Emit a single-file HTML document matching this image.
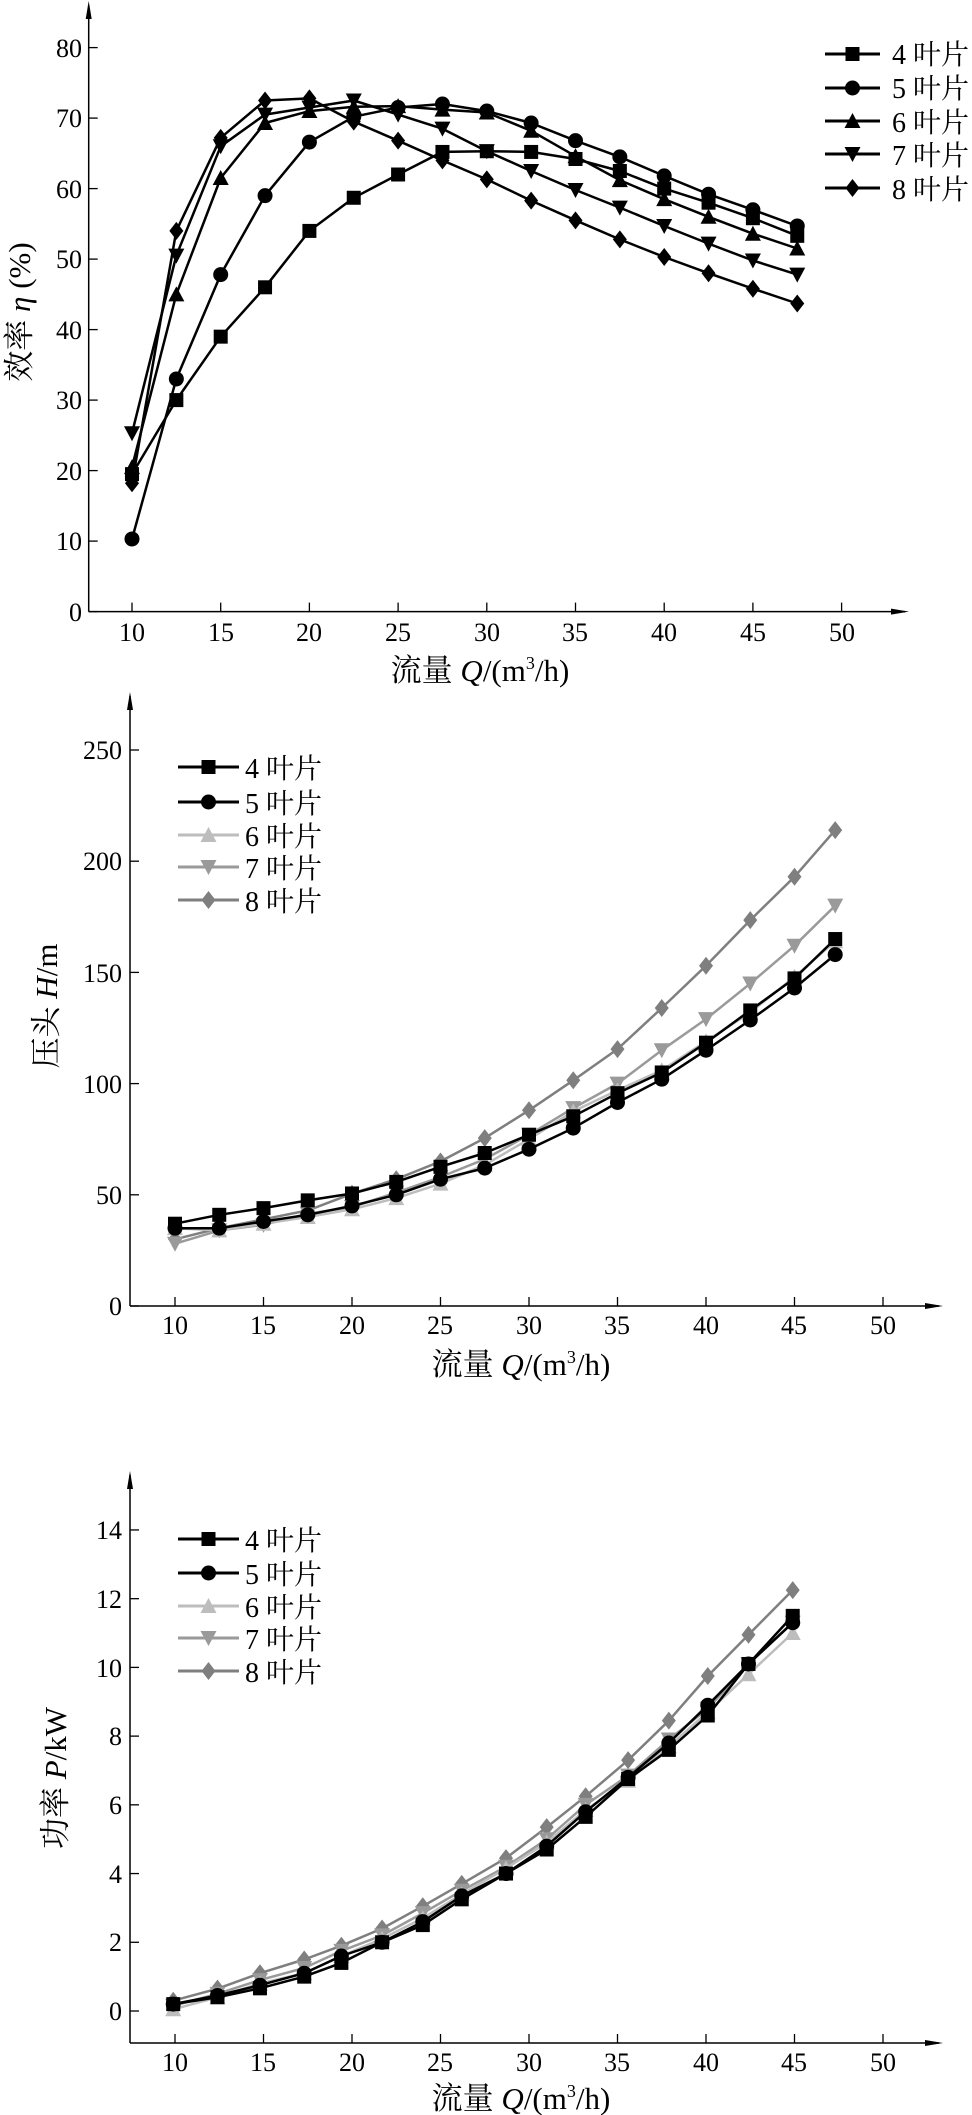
<!DOCTYPE html>
<html><head><meta charset="utf-8"><style>
html,body{margin:0;padding:0;background:#fff}
svg{display:block}
text{font-family:"Liberation Serif","Noto Serif CJK SC","Noto Sans CJK SC",serif;font-size:26px;fill:#000}
.yt{text-anchor:end}
.xt{text-anchor:middle}
.tt{font-size:31px}
.lg{font-size:28px}
</style></head><body>
<svg id="s" width="972" height="2115" viewBox="0 0 972 2115" xmlns="http://www.w3.org/2000/svg">
<g id="g"></g>
<text x="82" y="621" class="yt">0</text><text x="82" y="550" class="yt">10</text><text x="82" y="480" class="yt">20</text><text x="82" y="409" class="yt">30</text><text x="82" y="339" class="yt">40</text><text x="82" y="268" class="yt">50</text><text x="82" y="198" class="yt">60</text><text x="82" y="127" class="yt">70</text><text x="82" y="57" class="yt">80</text>
<text x="132" y="641" class="xt">10</text><text x="221" y="641" class="xt">15</text><text x="309" y="641" class="xt">20</text><text x="398" y="641" class="xt">25</text><text x="487" y="641" class="xt">30</text><text x="575" y="641" class="xt">35</text><text x="664" y="641" class="xt">40</text><text x="753" y="641" class="xt">45</text><text x="842" y="641" class="xt">50</text>
<text x="480" y="681" class="xt tt">流量 <tspan font-style="italic">Q</tspan>/(m<tspan font-size="18" dy="-12">3</tspan><tspan dy="12">/h)</tspan></text>
<text transform="translate(30,312) rotate(-90)" class="xt tt">效率 <tspan font-style="italic">η</tspan> (%)</text>
<text x="892" y="64" class="lg">4 叶片</text><text x="892" y="98" class="lg">5 叶片</text><text x="892" y="132" class="lg">6 叶片</text><text x="892" y="165" class="lg">7 叶片</text><text x="892" y="199" class="lg">8 叶片</text>
<text x="122" y="1315" class="yt">0</text><text x="122" y="1204" class="yt">50</text><text x="122" y="1093" class="yt">100</text><text x="122" y="982" class="yt">150</text><text x="122" y="870" class="yt">200</text><text x="122" y="759" class="yt">250</text>
<text x="175" y="1334" class="xt">10</text><text x="263" y="1334" class="xt">15</text><text x="352" y="1334" class="xt">20</text><text x="440" y="1334" class="xt">25</text><text x="529" y="1334" class="xt">30</text><text x="617" y="1334" class="xt">35</text><text x="706" y="1334" class="xt">40</text><text x="794" y="1334" class="xt">45</text><text x="883" y="1334" class="xt">50</text>
<text x="521" y="1375" class="xt tt">流量 <tspan font-style="italic">Q</tspan>/(m<tspan font-size="18" dy="-12">3</tspan><tspan dy="12">/h)</tspan></text>
<text transform="translate(57,1006) rotate(-90)" class="xt tt">压头 <tspan font-style="italic">H</tspan>/m</text>
<text x="245" y="778" class="lg">4 叶片</text><text x="245" y="813" class="lg">5 叶片</text><text x="245" y="846" class="lg">6 叶片</text><text x="245" y="878" class="lg">7 叶片</text><text x="245" y="911" class="lg">8 叶片</text>
<text x="122" y="2020" class="yt">0</text><text x="122" y="1951" class="yt">2</text><text x="122" y="1883" class="yt">4</text><text x="122" y="1814" class="yt">6</text><text x="122" y="1745" class="yt">8</text><text x="122" y="1677" class="yt">10</text><text x="122" y="1608" class="yt">12</text><text x="122" y="1539" class="yt">14</text>
<text x="175" y="2071" class="xt">10</text><text x="263" y="2071" class="xt">15</text><text x="352" y="2071" class="xt">20</text><text x="440" y="2071" class="xt">25</text><text x="529" y="2071" class="xt">30</text><text x="617" y="2071" class="xt">35</text><text x="706" y="2071" class="xt">40</text><text x="794" y="2071" class="xt">45</text><text x="883" y="2071" class="xt">50</text>
<text x="521" y="2109" class="xt tt">流量 <tspan font-style="italic">Q</tspan>/(m<tspan font-size="18" dy="-12">3</tspan><tspan dy="12">/h)</tspan></text>
<text transform="translate(66,1778) rotate(-90)" class="xt tt">功率 <tspan font-style="italic">P</tspan>/kW</text>
<text x="245" y="1550" class="lg">4 叶片</text><text x="245" y="1584" class="lg">5 叶片</text><text x="245" y="1617" class="lg">6 叶片</text><text x="245" y="1649" class="lg">7 叶片</text><text x="245" y="1682" class="lg">8 叶片</text>
</svg>
<script>
var g=document.getElementById('g'),NS='http://www.w3.org/2000/svg';
function el(t,a){var e=document.createElementNS(NS,t);for(var k in a)e.setAttribute(k,a[k]);g.appendChild(e);return e;}
function mk(type,x,y,c){var r=7;
 if(type==0)el('rect',{x:x-r,y:y-r,width:2*r,height:2*r,fill:c});
 else if(type==1)el('circle',{cx:x,cy:y,r:r+0.5,fill:c});
 else if(type==2)el('polygon',{points:(x)+','+(y-r-1)+' '+(x+r+1)+','+(y+r)+' '+(x-r-1)+','+(y+r),fill:c});
 else if(type==3)el('polygon',{points:(x)+','+(y+r+1)+' '+(x+r+1)+','+(y-r)+' '+(x-r-1)+','+(y-r),fill:c});
 else el('polygon',{points:x+','+(y-r-2)+' '+(x+r)+','+y+' '+x+','+(y+r+2)+' '+(x-r)+','+y,fill:c});}
function axes(ax,ay,top,right,xt,yts){
 el('line',{x1:ax,y1:ay,x2:ax,y2:top,stroke:'#000','stroke-width':1.5});
 el('line',{x1:ax,y1:ay,x2:right,y2:ay,stroke:'#000','stroke-width':1.5});
 el('polygon',{points:ax+','+(top-4)+' '+(ax-3)+','+(top+14)+' '+(ax+3)+','+(top+14),fill:'#000'});
 el('polygon',{points:(right+4)+','+ay+' '+(right-14)+','+(ay-3)+' '+(right-14)+','+(ay+3),fill:'#000'});
 xt.forEach(function(x){el('line',{x1:x,y1:ay,x2:x,y2:ay-9,stroke:'#000','stroke-width':1.3});});
 yts.forEach(function(y){el('line',{x1:ax,y1:y,x2:ax+9,y2:y,stroke:'#000','stroke-width':1.3});});}
function series(xs,ys,fx,fy,type,c){var p=xs.map(function(q,i){return fx(q).toFixed(1)+','+fy(ys[i]).toFixed(1)}).join(' ');
 el('polyline',{points:p,fill:'none',stroke:c,'stroke-width':2.5,'stroke-linejoin':'round'});
 xs.forEach(function(q,i){mk(type,fx(q),fy(ys[i]),c)});}
function legend(x1,x2,ys,cols){ys.forEach(function(y,i){el('line',{x1:x1,y1:y,x2:x2,y2:y,stroke:cols[i],'stroke-width':3});mk(i,(x1+x2)/2,y,cols[i]);});}
var f1x=function(q){return 132+17.74*(q-10)},f1y=function(v){return 611.6-7.05*v};
var xt=[],yt=[];for(var q=10;q<=50;q+=5)xt.push(f1x(q));for(var v=0;v<=80;v+=10)yt.push(f1y(v));
axes(88.7,611.6,5,905,xt,yt);
var Q1=[10,12.5,15,17.5,20,22.5,25,27.5,30,32.5,35,37.5,40,42.5,45,47.5];
var D1=[[19.5,30,39,46,54,58.7,62,65.2,65.3,65.2,64.2,62.5,60,58,55.8,53.3],
[10.3,33,47.8,59,66.6,70.2,71.5,72,71,69.3,66.8,64.5,61.8,59.2,57,54.7],
[20.5,45,61.5,69.3,71,71.6,71.7,71.2,70.8,68.2,64.6,61.2,58.5,56,53.6,51.5],
[25.3,50.5,66,70.5,71.5,72.5,70.5,68.5,65.3,62.5,59.8,57.3,54.7,52.2,49.8,47.8],
[18.2,54,67.2,72.5,72.8,69.5,66.8,64,61.3,58.3,55.5,52.8,50.3,48,45.8,43.7]];
D1.forEach(function(d,i){series(Q1,d,f1x,f1y,i,'#000')});
legend(825,880,[54,88,121,154,188],['#000','#000','#000','#000','#000']);
var cols=['#000','#000','#bdbdbd','#9a9a9a','#7f7f7f'];
var f2x=function(q){return 175+17.7*(q-10)},f2y=function(v){return 1306-2.224*v};
xt=[];yt=[];for(q=10;q<=50;q+=5)xt.push(f2x(q));for(v=0;v<=250;v+=50)yt.push(f2y(v));
axes(130,1306,696,939,xt,yt);
var Q2=[10,12.5,15,17.5,20,22.5,25,27.5,30,32.5,35,37.5,40,42.5,45,47.3];
var D2=[[37,41,44,47.5,50.6,55.8,62.6,68.8,77,85.3,95.7,105,118.4,132.9,147.3,165],
[35,35,38,41,45,50,57,62,70.5,80,91.5,102,115,128.6,143,158],
[35,34,37,40,43.5,48.5,55,63.5,75,87.5,97,106,119,132,148,164],
[28,34,36.5,41.5,44.5,51,58,66,77,89,100,115,129,145,162,180],
[30,35,39,43,50.5,57,65,75.5,88,101.5,115.5,134,153,173.5,193,214]];
[4,3,2,0,1].forEach(function(i){series(Q2,D2[i],f2x,f2y,i,cols[i])});
legend(178,239,[767,802,835,867,900],cols);
var f3y=function(v){return 2011-34.36*v};
xt=[];yt=[];for(q=10;q<=50;q+=5)xt.push(f2x(q));for(v=0;v<=14;v+=2)yt.push(f3y(v));
axes(130,2043,1475,939,xt,yt);
var Q3=[9.9,12.4,14.8,17.3,19.4,21.7,24,26.2,28.7,31,33.2,35.6,37.9,40.1,42.4,44.9];
var D3=[[0.2,0.4,0.66,1.0,1.4,2.0,2.5,3.25,4,4.7,5.65,6.75,7.6,8.6,10.1,11.5],
[0.2,0.45,0.75,1.1,1.6,2.0,2.6,3.35,4.0,4.8,5.8,6.8,7.8,8.9,10.1,11.3],
[0.05,0.4,0.8,1.1,1.6,2.1,2.7,3.4,4.15,4.9,5.85,6.7,7.7,8.7,9.8,11.0],
[0.15,0.5,0.9,1.25,1.75,2.2,2.85,3.5,4.2,5.0,6.0,6.85,7.9,8.8,10.1,11.3],
[0.3,0.65,1.1,1.5,1.9,2.4,3.05,3.7,4.45,5.35,6.25,7.3,8.45,9.75,10.95,12.25]];
[4,3,2,0,1].forEach(function(i){series(Q3,D3[i],f2x,f3y,i,cols[i])});
legend(178,239,[1539,1573,1606,1638,1671],cols);
</script>
</body></html>
